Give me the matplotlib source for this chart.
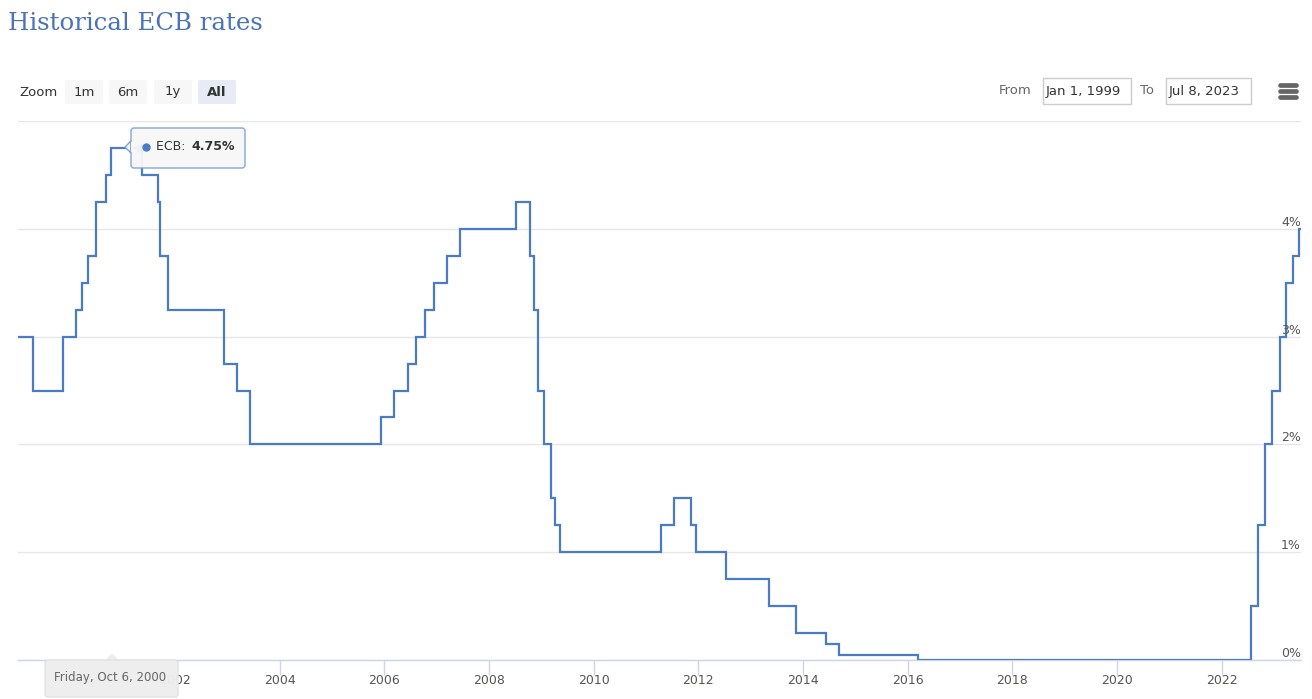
import matplotlib.pyplot as plt
from matplotlib.patches import FancyBboxPatch, Rectangle, Polygon
import datetime as dt

# ECB main refinancing rate, effective dates and new rate (%)
change_dates = [
    "1999-01-01", "1999-04-14", "1999-11-10", "2000-02-09", "2000-03-22",
    "2000-05-04", "2000-06-28", "2000-09-06", "2000-10-11", "2001-05-15",
    "2001-09-05", "2001-09-19", "2001-11-14", "2002-12-11", "2003-03-12",
    "2003-06-09", "2005-12-06", "2006-03-08", "2006-06-15", "2006-08-09",
    "2006-10-11", "2006-12-13", "2007-03-14", "2007-06-13", "2008-07-09",
    "2008-10-15", "2008-11-12", "2008-12-10", "2009-01-21", "2009-03-11",
    "2009-04-08", "2009-05-13", "2011-04-13", "2011-07-13", "2011-11-09",
    "2011-12-14", "2012-07-11", "2013-05-08", "2013-11-13", "2014-06-11",
    "2014-09-10", "2016-03-16", "2022-07-27", "2022-09-14", "2022-11-02",
    "2022-12-21", "2023-02-08", "2023-03-22", "2023-05-10", "2023-06-21",
    "2023-07-08",
]
rates = [
    3.00, 2.50, 3.00, 3.25, 3.50,
    3.75, 4.25, 4.50, 4.75, 4.50,
    4.25, 3.75, 3.25, 2.75, 2.50,
    2.00, 2.25, 2.50, 2.75, 3.00,
    3.25, 3.50, 3.75, 4.00, 4.25,
    3.75, 3.25, 2.50, 2.00, 1.50,
    1.25, 1.00, 1.25, 1.50, 1.25,
    1.00, 0.75, 0.50, 0.25, 0.15,
    0.05, 0.00, 0.50, 1.25, 2.00,
    2.50, 3.00, 3.50, 3.75, 4.00,
    4.00,
]
year_ticks = list(range(2002, 2023, 2))
pct_ticks = [0, 1, 2, 3, 4]
tooltip_date = "2001-05-01"
tooltip_rate = 4.75
tooltip_label = "Friday, Oct 6, 2000"

blue = "#4a7bc6"
dates = [dt.datetime.strptime(d, "%Y-%m-%d") for d in change_dates]

W, H = 1312, 699
fig = plt.figure(figsize=(W / 100, H / 100), dpi=100)
ax = fig.add_axes([18 / W, 1 - 660 / H, (1301 - 18) / W, (660 - 121) / H])

ax.plot(dates, rates, drawstyle="steps-post", color=blue, lw=1.6, zorder=3,
        solid_joinstyle="miter")
ax.set_xlim(dt.datetime(1999, 1, 1), dt.datetime(2023, 7, 8))
ax.set_ylim(0, 5)
for v in pct_ticks + [5]:
    ax.axhline(v, color="#e6e6e6", lw=1, zorder=1)
for s in ["top", "right", "left"]:
    ax.spines[s].set_visible(False)
ax.spines["bottom"].set_color("#ccd6eb")
ax.spines["bottom"].set_linewidth(1)
ax.set_yticks([])
ax.set_xticks([dt.datetime(y, 1, 1) for y in year_ticks])
ax.set_xticklabels([str(y) for y in year_ticks], color="#555555", fontsize=9)
ax.tick_params(axis="x", length=11, width=1, color="#ccd6eb", pad=-1)
for v in pct_ticks:
    ax.text(1.0, v, f"{v}%", transform=ax.get_yaxis_transform(),
            ha="right", va="bottom", fontsize=9, color="#555555")
ax.plot([dt.datetime.strptime(tooltip_date, "%Y-%m-%d")], [tooltip_rate], "o",
        color=blue, ms=5, zorder=6)

# overlay in pixel coordinates for chart chrome
ov = fig.add_axes([0, 0, 1, 1], facecolor="none")
ov.set_xlim(0, W)
ov.set_ylim(H, 0)
ov.axis("off")

ov.text(8, 23, "Historical ECB rates", fontsize=17.6, color="#4a72b8",
        family="DejaVu Serif", va="center", ha="left")

ov.text(19, 92, "Zoom", fontsize=9.5, color="#333333", va="center")
buttons = [("1m", 65), ("6m", 109), ("1y", 154), ("All", 198)]
for lab, x0 in buttons:
    sel = lab == "All"
    ov.add_patch(FancyBboxPatch((x0, 80), 38, 24, boxstyle="round,pad=0,rounding_size=2",
                                fc="#e6ebf5" if sel else "#f7f7f7", ec="none"))
    ov.text(x0 + 19, 92, lab, fontsize=9.5, color="#333333", ha="center", va="center",
            fontweight="bold" if sel else "normal")

ov.text(999, 91, "From", fontsize=9.5, color="#666666", va="center")
ov.add_patch(Rectangle((1043, 78), 88, 26, fc="white", ec="#cccccc", lw=1))
ov.text(1046, 91, "Jan 1, 1999", fontsize=9.5, color="#333333", va="center")
ov.text(1140, 91, "To", fontsize=9.5, color="#666666", va="center")
ov.add_patch(Rectangle((1166, 78), 85, 26, fc="white", ec="#cccccc", lw=1))
ov.text(1169, 91, "Jul 8, 2023", fontsize=9.5, color="#333333", va="center")
for yy in [85, 91, 97]:
    ov.plot([1280, 1296], [yy, yy], color="#666666", lw=3.4, solid_capstyle="round")

# series tooltip
ov.add_patch(Polygon([[125, 147], [131, 141], [131, 153]], closed=True,
                     fc="#f7f7f7", ec="#7ea1d8", lw=1, zorder=5))
ov.add_patch(FancyBboxPatch((131, 128), 114, 40, boxstyle="round,pad=0,rounding_size=3",
                            fc="#f7f7f7", ec="#7ea1d8", lw=1, alpha=0.95, zorder=5))
ov.add_patch(Rectangle((130.5, 142), 2, 10, fc="#f7f7f7", ec="none", zorder=6))
ov.plot([146], [147], "o", color=blue, ms=5, zorder=7)
ov.text(156, 147, "ECB: ", fontsize=9, color="#333333", va="center", zorder=7)
ov.text(191, 147, "4.75%", fontsize=9, color="#333333", va="center",
        fontweight="bold", zorder=7)

# date tooltip on x axis
ov.add_patch(Polygon([[104, 661], [112, 653], [120, 661]], closed=True,
                     fc="#eeeeee", ec="none", zorder=5))
ov.add_patch(FancyBboxPatch((45, 660), 133, 37, boxstyle="round,pad=0,rounding_size=3",
                            fc="#eeeeee", ec="#e2e2e2", lw=1, alpha=0.97, zorder=5))
ov.text(54, 678, tooltip_label, fontsize=8.5, color="#666666", va="center", zorder=6)

fig.savefig("out.png", dpi=100)
